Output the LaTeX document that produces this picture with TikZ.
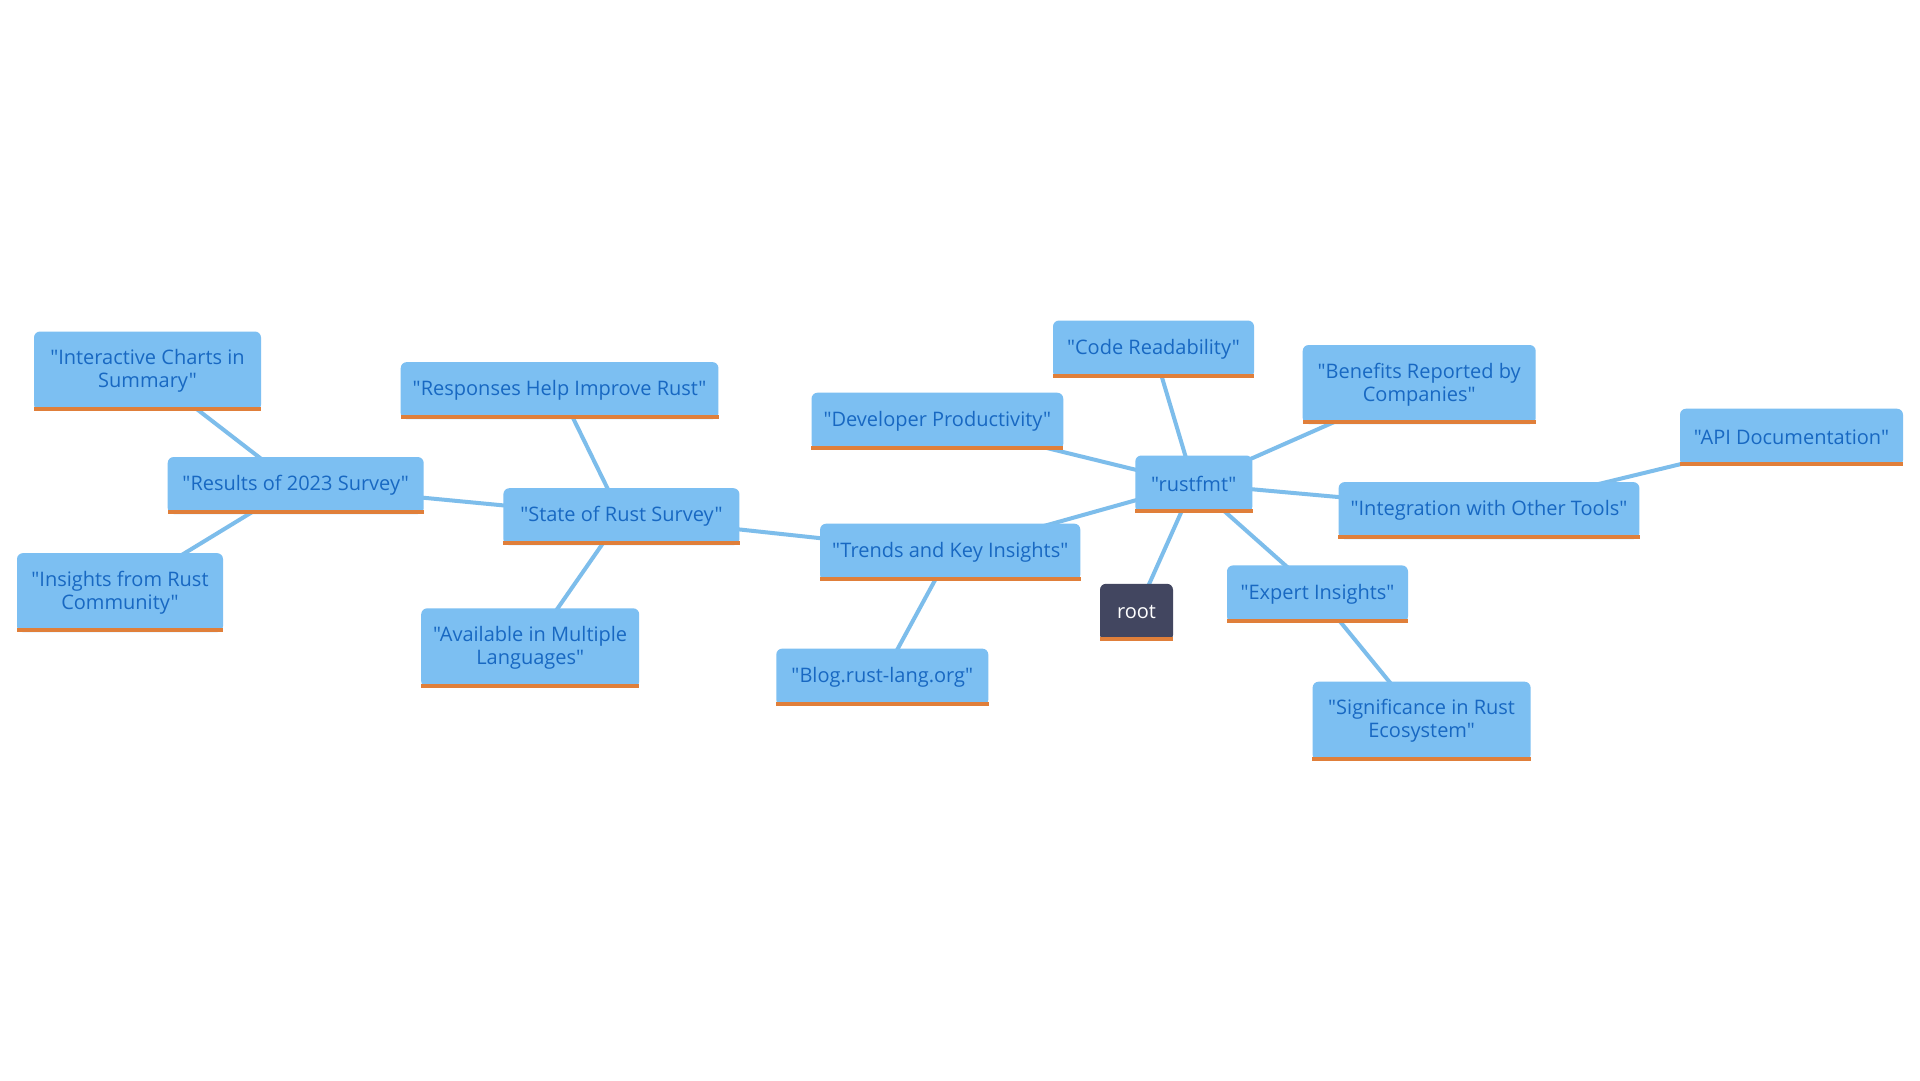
\documentclass[tikz,border=0pt]{standalone}
\usepackage{fontspec}
\setmainfont{Open Sans}[Ligatures=TeXOff]
\usepackage{tikz}
\usepackage{xcolor}
\usetikzlibrary{backgrounds}
\definecolor{topicfill}{HTML}{7CBFF2}
\definecolor{topictext}{HTML}{1868C2}
\definecolor{rootfill}{HTML}{424660}
\definecolor{barorange}{HTML}{E07F3A}
\definecolor{linkblue}{HTML}{7DBDEB}
\tikzset{
    topic/.style = {fill=topicfill, text=topictext, rectangle, rounded corners=6pt, inner xsep=12pt, minimum height=57pt, align=center, font=\fontsize{20}{23}\selectfont},
    twoline/.style = {minimum height=79pt},
    rootbox/.style = {topic, fill=rootfill, text=white},
    link/.style = {draw=linkblue, line width=4pt},
    bar/.style = {fill=barorange},
}

\begin{document}
\begin{tikzpicture}[x=1pt, y=-1pt]
\useasboundingbox (0,0) rectangle (1920,1080);
% left branch
\node[topic, twoline, minimum width=227pt] (charts) at (147.5,371) {"Interactive Charts in\\Summary"};
\node[topic, minimum width=316pt] (responses) at (559.6,390.6) {"Responses Help Improve Rust"};
\node[topic, minimum width=256pt] (results) at (295.7,485.5) {"Results of 2023 Survey"};
\node[topic, minimum width=236pt] (state) at (621.4,516.7) {"State of Rust Survey"};
\node[topic, twoline, minimum width=206pt] (insights) at (120,592.6) {"Insights from Rust\\Community"};
\node[topic, twoline, minimum width=216pt] (available) at (530.2,647.8) {"Available in Multiple\\Languages"};
% middle
\node[topic, minimum width=251pt] (devprod) at (937.4,421.2) {"Developer Productivity"};
\node[topic, minimum width=201pt] (code) at (1153.5,349) {"Code Readability"};
\node[topic, twoline, minimum width=233pt] (benefits) at (1419.2,384.5) {"Benefits Reported by\\Companies"};
\node[topic, minimum width=117pt] (rustfmt) at (1193.8,484) {"rustfmt"};
\node[topic, minimum width=257pt] (trends) at (950.2,552.2) {"Trends and Key Insights"};
\node[topic, minimum width=299pt] (integration) at (1489,510.6) {"Integration with Other Tools"};
\node[topic, minimum width=223pt] (api) at (1791.5,437.2) {"API Documentation"};
\node[rootbox, minimum width=73pt] (root) at (1136.5,612.3) {root};
\node[topic, minimum width=181pt] (expert) at (1317.5,593.9) {"Expert Insights"};
\node[topic, minimum width=212pt] (blog) at (882.3,677.1) {"Blog.rust-lang.org"};
\node[topic, twoline, minimum width=218pt] (significance) at (1421.6,721.2) {"Significance in Rust\\Ecosystem"};

% orange underline of every box
\foreach \n in {charts,responses,results,state,insights,available,devprod,code,benefits,rustfmt,trends,integration,api,root,expert,blog,significance}
    \fill[bar] (\n.south west) rectangle ([yshift=4pt]\n.south east);

\begin{scope}[on background layer]
\fill[white] (0,0) rectangle (1920,1080);
\foreach \a/\b in {root/rustfmt,rustfmt/code,rustfmt/devprod,rustfmt/benefits,rustfmt/integration,rustfmt/expert,rustfmt/trends,integration/api,expert/significance,trends/blog,trends/state,state/responses,state/available,state/results,results/charts,results/insights}
    \draw[link] (\a.center) -- (\b.center);
\end{scope}
\end{tikzpicture}
\end{document}
